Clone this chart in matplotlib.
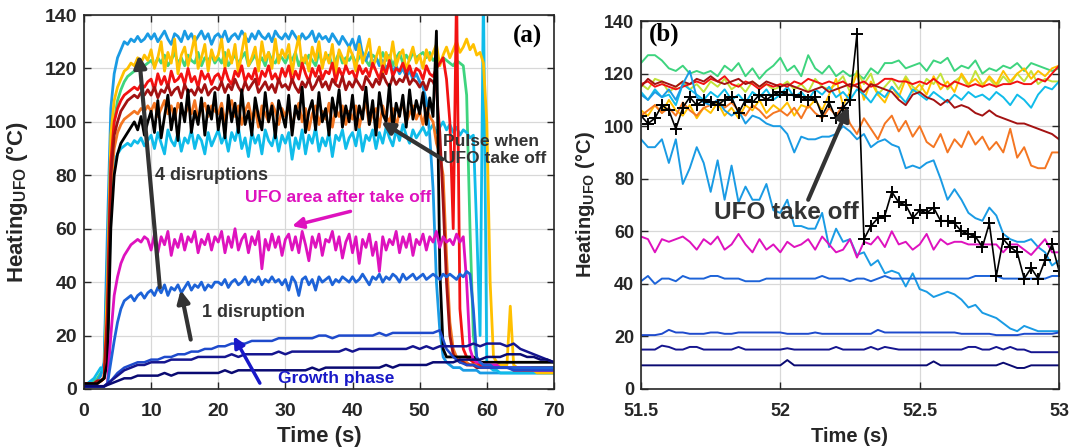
#!/usr/bin/env python
#
# UFO heating traces, (a) full pulse and (b) zoom around take off
#
import numpy as n
import matplotlib
matplotlib.use("Agg")
import matplotlib.pyplot as plt

plt.rcParams['font.family'] = ['Liberation Sans', 'DejaVu Sans']
plt.rcParams['font.weight'] = 'bold'
plt.rcParams['mathtext.fontset'] = 'custom'
plt.rcParams['mathtext.rm'] = 'Liberation Sans:bold'
plt.rcParams['mathtext.it'] = 'Liberation Sans:bold'
plt.rcParams['mathtext.bf'] = 'Liberation Sans:bold'

# ---- panel (a): 0.5 s samples, 0..70 s
t_a = n.arange(141) * 0.5
blue_top = [2,2,2,2,3,5,10,60,105,118,124,127,130,129,131,130,132,130,131,133,
            131,133,130,132,134,131,129,133,132,130,134,131,133,130,132,134,131,133,129,132,
            133,131,134,130,132,133,131,134,132,130,133,131,134,132,131,133,130,134,132,131,
            133,131,134,132,130,133,131,132,134,130,133,131,132,130,133,131,129,132,130,128,
            131,127,132,125,123,126,122,124,121,123,120,122,119,121,118,120,117,119,116,118,
            115,113,108,95,75,40,22,12,10,9,8,8,8,7,7,7,7,7,6,6,
            6,6,6,6,6,6,6,6,6,6,6,6,6,6,6,6,6,6,6,6, 6]
yellow = [2,2,2,2,2,3,4,40,95,108,113,116,119,120,122,121,124,122,125,123,
          127,120,124,130,119,126,122,131,118,125,128,121,126,132,120,124,129,119,127,123,
          125,131,120,127,122,129,118,126,133,121,124,128,119,130,123,126,120,131,122,127,
          124,129,118,126,132,121,125,119,128,123,130,120,126,122,129,118,127,124,121,128,
          125,119,129,122,126,131,120,124,128,118,126,122,130,121,125,127,119,124,128,122,
          125,120,127,123,126,129,121,125,128,124,127,130,126,128,131,127,129,125,126,122,
          100,40,12,10,9,9,9,31,9,8,8,7,7,7,7,6,6,6,6,6, 6]
green = [2,2,2,3,4,6,8,50,85,100,108,112,115,117,118,119,120,121,121,122,
         123,121,124,122,125,121,123,126,122,124,121,125,123,122,126,121,124,123,125,122,
         124,122,126,121,123,125,122,124,126,121,123,125,122,124,121,126,123,122,125,124,
         122,125,123,126,121,124,122,125,123,121,126,122,124,125,121,123,126,122,124,123,
         125,122,124,126,123,121,125,124,122,126,123,125,121,124,126,122,125,123,126,124,
         125,126,124,126,123,124,122,124,123,122,121,123,122,121,110,60,20,11,10,9,
         8,8,8,8,8,8,8,8,8,8,8,8,8,8,8,8,8,8,8,8, 8]
red = [2,2,2,2,3,3,4,30,85,100,105,108,110,111,112,113,112,114,113,115,
       116,112,118,114,117,113,119,115,116,118,114,120,115,117,113,119,116,118,114,117,
       118,115,120,116,114,119,117,121,115,118,116,120,114,119,117,121,116,118,115,120,
       117,121,115,119,116,122,118,115,120,117,121,116,119,118,122,115,120,117,121,118,
       119,116,121,118,120,117,122,119,116,121,118,123,117,120,119,122,118,121,117,120,
       119,116,121,118,117,120,122,124,116,100,60,150,30,15,12,11,10,10,9,9,
       9,9,8,8,8,8,8,8,7,7,7,7,7,7,7,7,7,7,7,7, 7]
dark_red = [2,2,2,2,3,3,4,25,80,95,100,104,106,108,109,110,109,111,110,112,
            110,113,109,112,111,114,110,112,113,109,114,111,112,110,113,111,114,110,112,113,
            112,115,111,114,112,116,113,111,115,112,114,116,111,113,115,112,114,111,116,113,
            114,112,116,113,111,115,113,116,112,114,117,113,115,112,116,114,113,117,112,115,
            113,116,114,112,117,115,113,116,114,118,115,113,117,114,116,115,118,114,116,115,
            113,115,112,116,115,112,96,70,40,20,13,11,10,10,9,9,9,8,8,8,
            8,8,8,8,8,8,8,8,8,8,8,8,8,8,8,8,8,8,8,8, 8]
orange = [2,2,2,2,3,3,4,20,75,90,96,99,101,102,103,104,103,105,104,106,
          104,107,102,105,108,103,106,101,107,104,102,106,103,108,101,105,107,102,106,104,
          103,107,100,105,108,102,106,99,104,107,101,105,98,106,103,100,107,104,99,105,
          102,106,98,104,107,100,105,97,103,106,99,104,101,107,98,105,102,106,99,104,
          101,106,98,104,107,99,103,105,98,106,102,100,105,98,104,107,100,103,106,101,
          104,99,105,102,100,92,88,80,50,25,15,12,11,10,10,9,9,9,8,8,
          8,8,8,8,8,8,8,8,8,8,8,8,8,8,8,8,8,8,8,8, 8]
black = [2,2,2,2,2,3,4,10,60,80,88,92,94,96,98,100,97,102,95,100,
         104,96,108,94,102,110,97,105,93,107,100,112,96,104,99,109,95,106,101,111,
         97,105,94,110,100,107,96,112,99,104,95,109,102,97,111,100,106,94,108,103,
         98,110,95,106,101,113,96,104,108,97,111,100,105,95,109,102,112,98,106,100,
         110,97,106,101,113,99,108,95,111,103,100,114,97,107,102,110,98,112,101,108,
         103,111,99,109,102,134,45,15,12,12,12,12,12,12,12,12,12,11,10,10,
         10,10,10,10,10,10,10,10,10,10,10,10,10,10,10,10,10,10,10,10, 10]
cyan = [2,2,3,4,6,8,6,15,70,85,88,90,91,92,91,93,92,94,91,93,
        95,90,96,92,88,97,93,91,96,89,94,92,97,90,95,93,88,96,91,94,
        97,92,95,89,96,93,98,90,94,87,96,92,95,88,97,93,91,96,89,95,
        92,96,86,94,90,97,88,95,92,98,89,94,91,96,87,95,93,97,90,94,
        96,91,98,89,95,93,97,90,96,92,98,94,91,97,93,99,95,92,97,94,
        96,98,95,97,99,96,98,100,97,99,96,98,95,97,96,94,95,60,20,150,
        9,8,7,7,6,6,6,6,6,6,6,6,6,6,6,6,6,6,6,6, 6]
magenta = [1,1,1,1,1,1,1,2,20,35,42,47,50,52,54,55,56,55,57,56,
           52,58,51,57,54,59,50,56,53,58,52,57,55,59,51,56,54,58,52,57,
           55,59,51,57,53,60,52,56,58,51,57,54,59,45,56,52,58,53,57,50,
           56,58,52,57,51,59,54,48,57,53,58,50,56,55,59,52,57,49,55,58,
           51,57,47,56,53,58,50,55,44,57,52,56,54,59,51,57,53,58,50,56,
           54,58,52,57,55,59,53,57,55,56,54,58,55,57,40,15,11,10,10,9,
           9,9,9,9,8,8,8,8,8,8,8,8,8,8,7,7,7,7,7,7, 7]
blue_one = [1,1,1,1,1,1,1,2,10,18,25,30,33,34,35,33,35,36,34,36,
            37,35,38,36,39,35,38,37,39,36,38,40,37,39,38,40,37,39,38,40,
            40,39,41,38,40,41,39,40,42,39,41,40,42,39,41,40,42,40,41,39,
            41,37,42,40,35,41,42,39,41,37,42,40,41,42,39,41,40,42,41,40,
            42,40,41,43,41,39,42,41,43,40,42,41,43,42,40,43,41,42,43,41,
            42,43,41,42,43,42,41,43,42,43,42,41,43,42,44,43,30,12,10,9,
            9,9,8,8,8,8,8,8,8,8,8,8,8,8,8,8,8,8,8,8, 8]

# growth phase traces, 1 s samples
t_g = n.arange(71) * 1.0
grow1 = [1,1,1,1,3,6,8,9,10,10, 11,11,12,12,13,13,14,14,15,15,
         16,16,17,17,17,18,18,18,18,19, 19,19,19,19,19,20,20,19,20,20,
         20,20,20,20,21,20,21,21,21,21, 21,21,21,22,15,12,10,9,9,8,
         8,8,8,8,7,7,7,7,7,7, 7]
grow2 = [1,1,1,1,3,5,7,8,9,9, 10,10,10,11,11,11,11,12,12,12,
         12,12,13,12,13,13,13,13,13,14, 13,14,14,14,14,14,14,14,14,15,
         14,15,15,15,15,15,15,15,15,16, 15,16,15,16,16,16,16,16,17,16,
         17,17,17,16,17,15,14,13,12,11, 10]
grow3 = [1,1,1,1,2,3,4,4,5,5, 5,5,6,5,6,6,6,6,6,6,
         6,7,6,7,7,7,7,7,7,7, 7,7,7,7,8,7,8,8,8,8,
         8,8,8,8,8,9,8,9,9,9, 9,9,10,10,10,10,11,11,11,11,
         12,12,12,13,13,13,12,12,11,11, 10]

# ---- panel (b): 0.025 s samples, 51.5..53 s
t_b = 51.5 + n.arange(61) * 0.025
b_green = [124,127,127,125,122,121,123,120,121,120, 121,119,123,121,124,119,122,118,121,123,
           126,121,123,119,127,122,120,123,119,121, 119,120,118,122,120,124,124,125,122,123,
           124,121,125,124,126,121,123,122,125,120, 122,121,123,122,124,121,124,123,122,121, 122]
b_lime = [116,114,118,117,113,115,117,114,116,113, 117,115,118,114,116,113,117,115,116,114,
          115,117,114,116,113,118,115,114,116,119, 113,121,116,120,112,115,118,114,119,115,
          113,118,116,120,114,117,119,115,121,116, 118,115,119,116,120,117,121,116,118,117, 117]
b_yellow = [106,104,108,105,110,106,104,108,103,107, 105,109,104,107,103,108,106,110,105,108,
            106,109,104,108,107,110,106,112,118,108, 113,120,110,117,112,109,115,111,118,113,
            116,112,119,114,117,113,120,116,118,115, 119,116,121,117,120,122,118,121,119,122, 123]
b_cyan = [113,110,114,111,112,108,116,114,112,110, 113,111,114,110,112,109,113,111,114,110,
          112,115,111,113,110,114,112,115,111,113, 110,114,112,109,113,111,115,112,109,114,
          112,110,113,111,109,112,110,113,111,112, 110,113,111,108,112,110,107,112,115,114, 117]
b_red = [116,117,115,116,115,114,115,116,117,116, 118,117,119,116,115,117,116,114,116,115,
         116,115,117,116,118,117,116,117,116,117, 115,116,117,115,116,118,118,117,117,116,
         117,116,118,116,115,117,116,115,116,115, 116,115,116,116,117,116,116,118,117,120, 123]
b_dark_red = [115,118,116,117,116,115,117,116,118,117, 119,117,116,117,118,116,117,115,117,116,
              115,116,115,114,113,114,115,113,114,115, 116,115,113,116,115,114,113,110,108,112,
              113,111,110,108,110,107,108,107,105,104, 106,104,103,102,101,101,100,99,98,97, 95]
b_orange = [104,106,108,105,107,104,109,106,104,107, 108,110,107,109,106,104,108,106,103,105,
            106,104,107,103,108,105,103,107,104,108, 101,97,103,99,95,101,104,98,102,96,
            100,94,92,97,90,95,92,98,93,96, 91,94,90,99,88,92,85,84,84,90, 90]
b_blue2 = [112,110,113,111,114,110,116,121,111,109, 108,110,106,104,106,101,104,103,101,100,
           100,97,90,96,95,95,96,96,97,100, 98,95,97,92,94,95,93,92,84,85,
           84,86,87,80,72,76,72,67,65,64, 69,66,59,57,56,56,57,54,52,47, 49]
b_blue_fall = [95,92,92,95,86,95,78,84,92,86, 75,87,72,85,71,77,72,72,78,68,
               67,72,62,62,61,61,67,54,61,56, 57,51,52,47,49,44,45,44,39,44,
               38,37,35,36,37,36,34,31,32,29, 28,27,25,23,22,24,23,22,22,22, 22]
b_magenta = [58,57,52,57,56,57,58,56,53,57, 55,58,53,55,59,55,52,57,53,55,
             52,56,54,55,57,53,58,55,52,53, 57,50,56,55,58,54,60,55,56,53,
             55,59,53,57,55,56,56,55,55,55, 55,55,52,55,55,53,51,54,57,52, 52]
b_blue42 = [41,43,40,42,42,41,43,42,42,42, 43,43,42,42,42,41,41,41,42,42,
            42,42,42,42,42,42,43,42,42,42, 41,42,42,41,42,43,42,42,42,42,
            42,42,42,42,42,42,42,42,43,43, 43,43,42,42,42,42,42,42,42,43, 43]
b_blue21 = [20.5,20.5,20.5,21,22.5,21.5,21.5,21,21,21, 21.5,21.5,21,21,21.5,21.5,21.5,21.5,21.5,21.5,
            21.5,21,21,21,21,21.5,21,21,21,21, 21,21,21,21,22.5,21.5,21.5,21.5,21.5,21.5,
            21.5,21.5,21.5,21.5,21.5,21.5,21,21,21,21, 21,20.5,20.5,20.5,20.5,21,21,21,21,21, 21.5]
b_navy15 = [15,15,15,16.5,16,15,15,16,16,15, 15,15,15,15,16,15,15,15,15,15,
            15,15.5,15,15,15,15,15,15,16,15, 15,15,15,16,15,16,15.5,15,15,15,
            15,15,15,15,15,15,15,16,16,15, 15,16,15,16,15,15,14,14,14,14, 14]
b_navy9 = [9,9,9,9,9,9,9,9,9,9, 9,9,9,9,9,9,9,9,9,9,
           9,11,9,9,9,9,9,9,9,9, 9,9,9,9,9,9,9,9,9,9,
           9,9,10.5,9,9,9,9,9,9,9, 9,9,10,9,8,8,9,9,9,9, 9]
b_black = [104,101,103,108,106,99,107,111,108,110, 109,108,110,111,105,110,109,112,110,112,
           113,112,112,111,110,111,104,109,103,107, 110,135,57,62,65,66,75,71,70,65,
           68,67,69,64,64,63,60,59,58,54, 63,43,57,54,52,42,46,42,49,55, 45]

c_green = '#3ED47E'
c_lime = '#C2E23A'
c_yellow = '#FFC000'
c_skyblue = '#1A9BE4'
c_cyan = '#10BCEA'
c_red = '#F21212'
c_dark_red = '#A31212'
c_orange = '#F47622'
c_magenta = '#DE12BE'
c_blue42 = '#1D63D8'
c_blue21 = '#1E4ACC'
c_navy15 = '#15158F'
c_navy9 = '#0A0A72'
c_text = '#333333'

fig = plt.figure(figsize=(10.71, 4.48), dpi=100)
ax1 = fig.add_axes([0.0784, 0.1317, 0.4388, 0.8348])
ax2 = fig.add_axes([0.5985, 0.1317, 0.3903, 0.8214])

# (a)  thick lines so the noisy traces fill in like the dense originals
lw = 2.0
ax1.plot(t_a, green, color=c_green, lw=lw)
ax1.plot(t_a, blue_top, color=c_skyblue, lw=lw)
ax1.plot(t_a, cyan, color=c_cyan, lw=lw)
ax1.plot(t_a, yellow, color=c_yellow, lw=lw)
ax1.plot(t_a, orange, color=c_orange, lw=lw)
ax1.plot(t_a, red, color=c_red, lw=lw)
ax1.plot(t_a, dark_red, color=c_dark_red, lw=lw)
ax1.plot(t_a, black, color='k', lw=lw)
ax1.plot(t_a, magenta, color=c_magenta, lw=lw)
ax1.plot(t_a, blue_one, color=c_blue42, lw=lw)
ax1.plot(t_g, grow1, color=c_blue21, lw=1.8)
ax1.plot(t_g, grow2, color=c_navy15, lw=1.8)
ax1.plot(t_g, grow3, color=c_navy9, lw=1.8)

arw = dict(arrowstyle='-|>', lw=3, color=c_text, mutation_scale=18, shrinkA=0, shrinkB=0)
ax1.annotate('', xy=(8.2, 125), xytext=(11.3, 38), arrowprops=arw)
ax1.annotate('', xy=(14.4, 37), xytext=(15.9, 18.5), arrowprops=arw)
ax1.annotate('', xy=(44.3, 100), xytext=(53.4, 86), arrowprops=arw)
ax1.annotate('', xy=(31, 61), xytext=(39.7, 66.5),
             arrowprops=dict(arrowstyle='-|>', lw=2.5, color=c_magenta, mutation_scale=16, shrinkA=0, shrinkB=0))
ax1.annotate('', xy=(22.3, 19.7), xytext=(26.2, 2.2),
             arrowprops=dict(arrowstyle='-|>', lw=2.5, color='#1818C8', mutation_scale=16, shrinkA=0, shrinkB=0))

ax1.text(10.6, 80, '4 disruptions', fontsize=13, color=c_text, va='center')
ax1.text(37.8, 71.5, 'UFO area after take off', fontsize=12.5, color=c_magenta, ha='center', va='center')
ax1.text(17.6, 28.5, '1 disruption', fontsize=13, color=c_text, va='center')
ax1.text(37.6, 3.8, 'Growth phase', fontsize=12.5, color='#1818C8', ha='center', va='center')
ax1.text(53.5, 89.5, 'Pulse when\nUFO take off', fontsize=12.5, color=c_text, va='center', linespacing=1.15)
ax1.text(66, 132, '(a)', fontsize=18, fontfamily='Liberation Serif', fontweight='bold', ha='center', va='center')

ax1.set_xlim(0, 70)
ax1.set_ylim(0, 140)
ax1.set_xticks(range(0, 71, 10))
ax1.set_yticks(range(0, 141, 20))

# (b)
lwb = 1.4
ax2.plot(t_b, b_green, color=c_green, lw=lwb)
ax2.plot(t_b, b_lime, color=c_lime, lw=lwb)
ax2.plot(t_b, b_yellow, color=c_yellow, lw=lwb)
ax2.plot(t_b, b_cyan, color=c_cyan, lw=lwb)
ax2.plot(t_b, b_red, color=c_red, lw=lwb)
ax2.plot(t_b, b_dark_red, color=c_dark_red, lw=lwb)
ax2.plot(t_b, b_orange, color=c_orange, lw=lwb)
ax2.plot(t_b, b_blue2, color=c_skyblue, lw=lwb)
ax2.plot(t_b, b_blue_fall, color=c_skyblue, lw=lwb)
ax2.plot(t_b, b_magenta, color=c_magenta, lw=lwb)
ax2.plot(t_b, b_blue42, color=c_blue42, lw=lwb)
ax2.plot(t_b, b_blue21, color=c_blue21, lw=lwb)
ax2.plot(t_b, b_navy15, color=c_navy15, lw=lwb)
ax2.plot(t_b, b_navy9, color=c_navy9, lw=lwb)
ax2.plot(t_b, b_black, color='k', lw=1.2, marker='+', ms=9, mew=1.4)

ax2.annotate('', xy=(52.245, 107.5), xytext=(52.1, 72), arrowprops=dict(arw, mutation_scale=20))
ax2.text(52.02, 67, 'UFO take off', fontsize=17.5, color=c_text, ha='center', va='center')
ax2.text(51.53, 135, '(b)', fontsize=18, fontfamily='Liberation Serif', fontweight='bold', ha='left', va='center')

ax2.set_xlim(51.5, 53)
ax2.set_ylim(0, 140)
ax2.set_xticks([51.5, 52, 52.5, 53])
ax2.set_xticklabels(['51.5', '52', '52.5', '53'])
ax2.set_yticks(range(0, 141, 20))

for ax, fs, lfs in ((ax1, 14, 16), (ax2, 13, 14.5)):
    ax.grid(True, color='#D8D8D8', lw=0.9)
    ax.set_axisbelow(True)
    ax.tick_params(direction='in', length=5, width=1, top=True, right=True,
                   labelsize=fs, colors='#262626', labelcolor='#262626')
    ax.tick_params(axis='x', pad=10)
    ax.tick_params(axis='y', pad=5)
    for lab in ax.get_xticklabels() + ax.get_yticklabels():
        lab.set_fontweight('bold')
    for s in ax.spines.values():
        s.set_linewidth(1.2)
        s.set_color('#262626')
    ax.set_xlabel('Time (s)', fontsize=lfs, color='#262626', va='center', fontweight='bold')
    ax.set_ylabel(r'Heating$_{\mathrm{UFO}}$ (°C)', fontsize=lfs, color='#262626', va='center',
                  fontweight='bold')

ax1.xaxis.set_label_coords(0.5, -0.128)
ax1.yaxis.set_label_coords(-0.143, 0.5)
ax2.xaxis.set_label_coords(0.5, -0.13)
ax2.yaxis.set_label_coords(-0.132, 0.5)

fig.savefig('out.png', dpi=100)
